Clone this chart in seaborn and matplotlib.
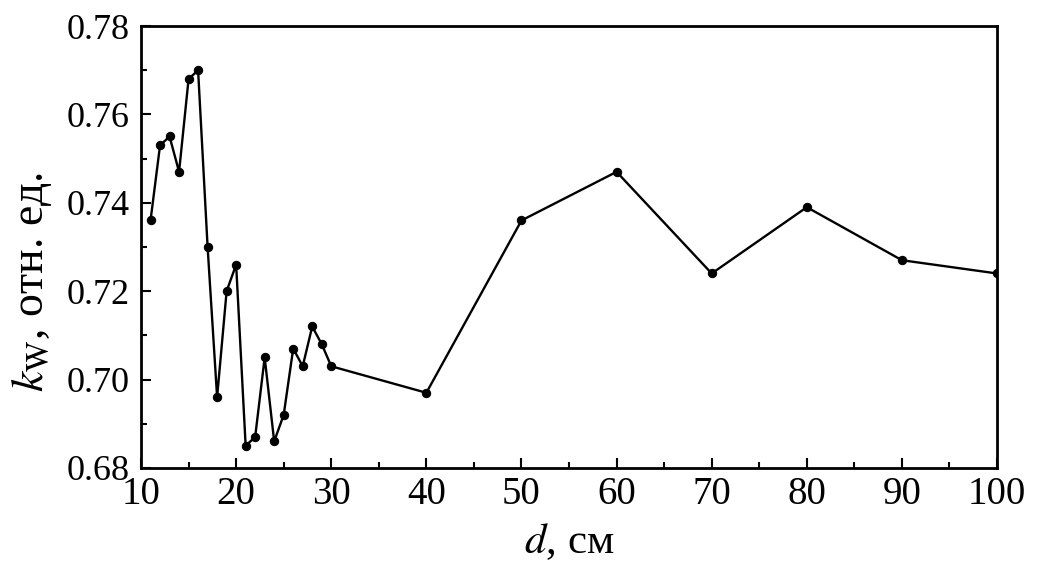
import pandas as pd
import matplotlib
matplotlib.use('Agg')
import matplotlib.pyplot as plt
from matplotlib.ticker import MultipleLocator, FormatStrFormatter
import seaborn as sns

# расстояние d, см и коэффициент k_W
d_cm = [11, 12, 13, 14, 15, 16, 17, 18, 19, 20,
        21, 22, 23, 24, 25, 26, 27, 28, 29, 30,
        40, 50, 60, 70, 80, 90, 100]
k_w = [0.736, 0.753, 0.755, 0.747, 0.768, 0.770, 0.730, 0.696, 0.720, 0.726,
       0.685, 0.687, 0.705, 0.686, 0.692, 0.707, 0.703, 0.712, 0.708, 0.703,
       0.697, 0.736, 0.747, 0.724, 0.739, 0.727, 0.724]

data = pd.DataFrame({'d': d_cm, 'k': k_w})

sns.set_style('ticks')
plt.rcParams['font.family'] = ['Liberation Serif', 'DejaVu Serif']
plt.rcParams['mathtext.fontset'] = 'stix'
# всё чёрное, как в оригинале
for key in ['text.color', 'axes.labelcolor', 'xtick.color', 'ytick.color',
            'axes.edgecolor']:
    plt.rcParams[key] = 'black'

fig = plt.figure(figsize=(10.4, 5.72), dpi=100)
ax = fig.add_axes([0.1356, 0.182, 0.8231, 0.7725])

sns.lineplot(data=data, x='d', y='k', ax=ax, color='black', linewidth=1.7,
             marker='o', markersize=6, markeredgecolor='black')

ax.set_xlim(10, 100)
ax.set_ylim(0.68, 0.78)
ax.xaxis.set_major_locator(MultipleLocator(10))
ax.xaxis.set_minor_locator(MultipleLocator(5))
ax.yaxis.set_major_locator(MultipleLocator(0.02))
ax.yaxis.set_minor_locator(MultipleLocator(0.01))
ax.yaxis.set_major_formatter(FormatStrFormatter('%.2f'))

ax.tick_params(which='both', direction='in', top=False, right=False, width=1.5,
               colors='black')
ax.tick_params(which='major', length=7)
ax.tick_params(which='minor', length=4)
ax.tick_params(axis='x', labelsize=28, pad=6)
ax.tick_params(axis='y', labelsize=26, pad=8)
for s in ax.spines.values():
    s.set_linewidth(2)
    s.set_color('black')

ax.set_xlabel(r'$d$, см', fontsize=31, labelpad=6)
ax.set_ylabel(r'$k_\mathrm{W}$, отн. ед.', fontsize=33)
ax.yaxis.set_label_coords(-0.102, 0.42)

fig.savefig('out.png', dpi=100)
plt.close(fig)
